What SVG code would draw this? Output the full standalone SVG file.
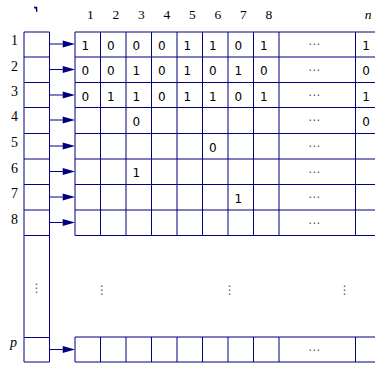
<svg xmlns="http://www.w3.org/2000/svg" width="375" height="365" viewBox="0 0 375 365">
<defs>
<style>
.ln{stroke:#000080;stroke-width:1;fill:none}
.lab{font-family:"Liberation Serif","DejaVu Serif",serif;font-size:14px;fill:#000}
.hd{font-family:"Liberation Serif","DejaVu Serif",serif;font-size:13.5px;fill:#000;text-anchor:middle}
.d{font-family:"DejaVu Sans",sans-serif;font-size:12px;fill:#000;text-anchor:middle}
.dots{font-family:"DejaVu Sans",sans-serif;font-size:12px;fill:#555;text-anchor:middle}
.ar{stroke:#000080;stroke-width:1;fill:none;marker-end:url(#ah)}
</style>
<marker id="ah" markerUnits="userSpaceOnUse" markerWidth="13" markerHeight="8" refX="0" refY="4" orient="auto" overflow="visible">
<path d="M0,0.5 L12.3,4 L0,7.5 Z" fill="#000080"/>
</marker>
</defs>
<rect width="375" height="365" fill="#fff"/>
<polygon points="34,6.7 37.3,6.7 37.3,12 36.2,12 35.6,8.6 34,8.3" fill="#000080"/>
<g id="col-headers">
<text class="hd" x="90.25" y="19">1</text>
<text class="hd" x="115.75" y="19">2</text>
<text class="hd" x="141.25" y="19">3</text>
<text class="hd" x="166.75" y="19">4</text>
<text class="hd" x="192.25" y="19">5</text>
<text class="hd" x="217.75" y="19">6</text>
<text class="hd" x="243.25" y="19">7</text>
<text class="hd" x="268.75" y="19">8</text>
<text class="hd" x="368" y="19" font-style="italic">n</text>
</g>
<g id="row-labels">
<text class="lab" x="11" y="45">1</text>
<text class="lab" x="11" y="70.5">2</text>
<text class="lab" x="11" y="96">3</text>
<text class="lab" x="11" y="121">4</text>
<text class="lab" x="11" y="147">5</text>
<text class="lab" x="11" y="172.5">6</text>
<text class="lab" x="11" y="198">7</text>
<text class="lab" x="11" y="223.5">8</text>
<text class="lab" x="10" y="347" font-style="italic">p</text>
</g>
<g id="pointer-array">
<path class="ln" d="M24,32V362 M49.5,32V362 M24,32H49.5 M24,57H49.5 M24,82.5H49.5 M24,107.5H49.5 M24,133.5H49.5 M24,159H49.5 M24,184.5H49.5 M24,210H49.5 M24,235.5H49.5 M24,337.5H49.5 M24,362H49.5"/>
<text class="dots" x="36.7" y="292">⋮</text>
</g>
<g id="row-1">
<path class="ln" d="M75,32H375 M75,57H375 M75,32V57 M100.5,32V57 M126,32V57 M151.5,32V57 M177,32V57 M202.5,32V57 M228,32V57 M253.5,32V57 M279,32V57 M355.5,32V57"/>
<text class="d" x="85.25" y="50">1</text><text class="d" x="110.75" y="50">0</text><text class="d" x="136.25" y="50">0</text><text class="d" x="161.75" y="50">0</text><text class="d" x="187.25" y="50">1</text><text class="d" x="212.75" y="50">1</text><text class="d" x="238.25" y="50">0</text><text class="d" x="263.75" y="50">1</text><text class="dots" x="314" y="48">⋯</text><text class="d" x="366" y="50">1</text>
</g>
<g id="row-2">
<path class="ln" d="M75,82.5H375 M75,57V82.5 M100.5,57V82.5 M126,57V82.5 M151.5,57V82.5 M177,57V82.5 M202.5,57V82.5 M228,57V82.5 M253.5,57V82.5 M279,57V82.5 M355.5,57V82.5"/>
<text class="d" x="85.25" y="75">0</text><text class="d" x="110.75" y="75">0</text><text class="d" x="136.25" y="75">1</text><text class="d" x="161.75" y="75">0</text><text class="d" x="187.25" y="75">1</text><text class="d" x="212.75" y="75">0</text><text class="d" x="238.25" y="75">1</text><text class="d" x="263.75" y="75">0</text><text class="dots" x="314" y="73.5">⋯</text><text class="d" x="366" y="75">0</text>
</g>
<g id="row-3">
<path class="ln" d="M75,107.5H375 M75,82.5V107.5 M100.5,82.5V107.5 M126,82.5V107.5 M151.5,82.5V107.5 M177,82.5V107.5 M202.5,82.5V107.5 M228,82.5V107.5 M253.5,82.5V107.5 M279,82.5V107.5 M355.5,82.5V107.5"/>
<text class="d" x="85.25" y="100.5">0</text><text class="d" x="110.75" y="100.5">1</text><text class="d" x="136.25" y="100.5">1</text><text class="d" x="161.75" y="100.5">0</text><text class="d" x="187.25" y="100.5">1</text><text class="d" x="212.75" y="100.5">1</text><text class="d" x="238.25" y="100.5">0</text><text class="d" x="263.75" y="100.5">1</text><text class="dots" x="314" y="99">⋯</text><text class="d" x="366" y="100.5">1</text>
</g>
<g id="row-4">
<path class="ln" d="M75,133.5H375 M75,107.5V133.5 M100.5,107.5V133.5 M126,107.5V133.5 M151.5,107.5V133.5 M177,107.5V133.5 M202.5,107.5V133.5 M228,107.5V133.5 M253.5,107.5V133.5 M279,107.5V133.5 M355.5,107.5V133.5"/>
<text class="d" x="136.25" y="126">0</text><text class="dots" x="314" y="124">⋯</text><text class="d" x="366" y="126">0</text>
</g>
<g id="row-5">
<path class="ln" d="M75,159H375 M75,133.5V159 M100.5,133.5V159 M126,133.5V159 M151.5,133.5V159 M177,133.5V159 M202.5,133.5V159 M228,133.5V159 M253.5,133.5V159 M279,133.5V159 M355.5,133.5V159"/>
<text class="d" x="212.75" y="151.5">0</text><text class="dots" x="314" y="150">⋯</text>
</g>
<g id="row-6">
<path class="ln" d="M75,184.5H375 M75,159V184.5 M100.5,159V184.5 M126,159V184.5 M151.5,159V184.5 M177,159V184.5 M202.5,159V184.5 M228,159V184.5 M253.5,159V184.5 M279,159V184.5 M355.5,159V184.5"/>
<text class="d" x="136.25" y="177">1</text><text class="dots" x="314" y="175.5">⋯</text>
</g>
<g id="row-7">
<path class="ln" d="M75,210H375 M75,184.5V210 M100.5,184.5V210 M126,184.5V210 M151.5,184.5V210 M177,184.5V210 M202.5,184.5V210 M228,184.5V210 M253.5,184.5V210 M279,184.5V210 M355.5,184.5V210"/>
<text class="d" x="238.25" y="202.5">1</text><text class="dots" x="314" y="201">⋯</text>
</g>
<g id="row-8">
<path class="ln" d="M75,235.5H375 M75,210V235.5 M100.5,210V235.5 M126,210V235.5 M151.5,210V235.5 M177,210V235.5 M202.5,210V235.5 M228,210V235.5 M253.5,210V235.5 M279,210V235.5 M355.5,210V235.5"/>
<text class="dots" x="314" y="226.5">⋯</text>
</g>
<g id="vdots">
<text class="dots" x="102" y="294">⋮</text>
<text class="dots" x="229.7" y="294">⋮</text>
<text class="dots" x="344.7" y="294">⋮</text>
</g>
<g id="row-p">
<path class="ln" d="M75,337H375 M75,362H375 M75,337V362 M100.5,337V362 M126,337V362 M151.5,337V362 M177,337V362 M202.5,337V362 M228,337V362 M253.5,337V362 M279,337V362 M355.5,337V362"/>
<text class="dots" x="314" y="353.5">⋯</text>
</g>
<g id="connectors">
<line class="ar" x1="49.5" y1="44" x2="62.7" y2="44"/>
<line class="ar" x1="49.5" y1="69.5" x2="62.7" y2="69.5"/>
<line class="ar" x1="49.5" y1="95" x2="62.7" y2="95"/>
<line class="ar" x1="49.5" y1="120" x2="62.7" y2="120"/>
<line class="ar" x1="49.5" y1="146" x2="62.7" y2="146"/>
<line class="ar" x1="49.5" y1="171.5" x2="62.7" y2="171.5"/>
<line class="ar" x1="49.5" y1="197" x2="62.7" y2="197"/>
<line class="ar" x1="49.5" y1="222.5" x2="62.7" y2="222.5"/>
<line class="ar" x1="49.5" y1="349.5" x2="62.7" y2="349.5"/>
</g>
</svg>
